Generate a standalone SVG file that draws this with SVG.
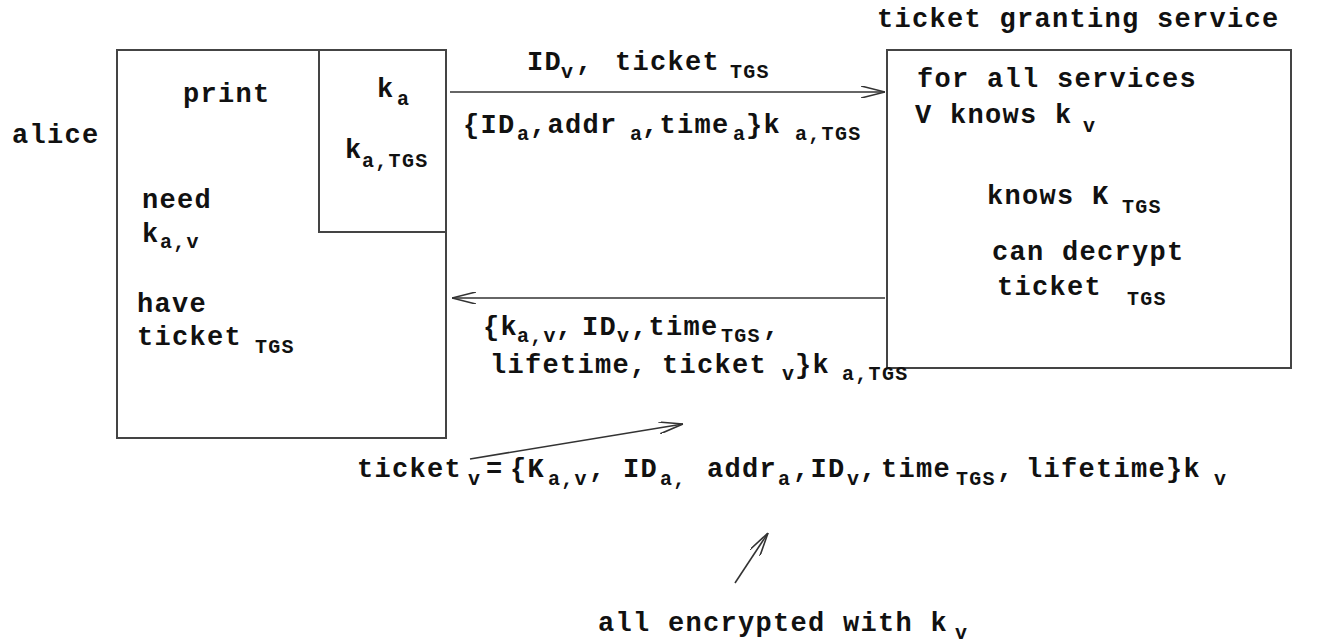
<svg xmlns="http://www.w3.org/2000/svg" width="1317" height="643" viewBox="0 0 1317 643">
<style>
.t{font-family:"Liberation Mono","DejaVu Sans Mono",monospace;font-weight:bold;font-size:27px;letter-spacing:1.3px;fill:#111}
.s{font-size:20px;letter-spacing:1.3px}
.box{fill:none;stroke:#444;stroke-width:2}
.c{fill:none;stroke:#333;stroke-width:1.6}
</style>
<defs>
<marker id="ah" viewBox="0 0 24 12" refX="24" refY="6" markerWidth="24" markerHeight="12" markerUnits="userSpaceOnUse" orient="auto">
<path d="M0,0 L24,6 L0,12" fill="none" stroke="#333" stroke-width="1.6"/>
</marker>
</defs>
<rect width="1317" height="643" fill="#fff"/>
<g id="alice">
<rect class="box" x="117" y="50" width="329" height="388"/>
<polyline class="box" points="319,50 319,232 446,232"/>
<text class="t" x="12" y="143">alice</text>
<text class="t" x="183" y="102">print</text>
<text class="t" x="377" y="97">k<tspan class="s" x="397" y="105">a</tspan></text>
<text class="t" x="345" y="158">k<tspan class="s" x="362" y="167">a,TGS</tspan></text>
<text class="t" x="142" y="208">need</text>
<text class="t" x="142" y="242">k<tspan class="s" x="160" y="248">a,v</tspan></text>
<text class="t" x="137" y="312">have</text>
<text class="t" x="137" y="345">ticket<tspan class="s" x="255" y="353">TGS</tspan></text>
</g>
<g id="tgs">
<rect class="box" x="887" y="50" width="404" height="318"/>
<text class="t" x="877" y="27">ticket granting service</text>
<text class="t" x="917" y="87">for all services</text>
<text class="t" x="915" y="123">V knows k<tspan class="s" x="1083" y="132">v</tspan></text>
<text class="t" x="987" y="204">knows K<tspan class="s" x="1122" y="213">TGS</tspan></text>
<text class="t" x="992" y="260">can decrypt</text>
<text class="t" x="997" y="295">ticket<tspan class="s" x="1127" y="305">TGS</tspan></text>
</g>
<g id="connectors">
<line class="c" x1="470" y1="459" x2="683" y2="424" marker-end="url(#ah)"/>
<line class="c" x1="450" y1="92" x2="885" y2="92" marker-end="url(#ah)"/>
<line class="c" x1="885" y1="298" x2="452" y2="298" marker-end="url(#ah)"/>
<line class="c" x1="735" y1="583" x2="768" y2="533" marker-end="url(#ah)"/>
</g>
<g id="labels">
<text class="t" x="527" y="70">ID<tspan class="s" x="561" y="78">v</tspan><tspan x="576" y="70">,</tspan><tspan x="615" y="70">ticket</tspan><tspan class="s" x="730" y="78">TGS</tspan></text>
<text class="t" x="463" y="133">{ID<tspan class="s" x="517" y="140">a</tspan><tspan x="530" y="133">,addr</tspan><tspan class="s" x="630" y="140">a</tspan><tspan x="642" y="133">,time</tspan><tspan class="s" x="733" y="140">a</tspan><tspan x="746" y="133">}k</tspan><tspan class="s" x="795" y="140">a,TGS</tspan></text>
<text class="t" x="483" y="335">{k<tspan class="s" x="517" y="342">a,v</tspan><tspan x="556" y="335">,</tspan><tspan x="582" y="335">ID</tspan><tspan class="s" x="617" y="342">v</tspan><tspan x="631" y="335">,time</tspan><tspan class="s" x="721" y="342">TGS</tspan><tspan x="763" y="335">,</tspan></text>
<text class="t" x="490" y="373">lifetime,</text>
<text class="t" x="662" y="373">ticket<tspan class="s" x="782" y="380">v</tspan><tspan x="795" y="373">}k</tspan><tspan class="s" x="842" y="380">a,TGS</tspan></text>
<text class="t" x="357" y="477">ticket<tspan class="s" x="468" y="485">v</tspan><tspan x="486" y="477">=</tspan><tspan x="510" y="477">{K</tspan><tspan class="s" x="548" y="485">a,v</tspan><tspan x="589" y="477">,</tspan><tspan x="623" y="477">ID</tspan><tspan class="s" x="660" y="485">a,</tspan><tspan x="707" y="477">addr</tspan><tspan class="s" x="778" y="485">a</tspan><tspan x="793" y="477">,ID</tspan><tspan class="s" x="847" y="485">v</tspan><tspan x="860" y="477">,</tspan><tspan x="881" y="477">time</tspan><tspan class="s" x="956" y="485">TGS</tspan><tspan x="997" y="477">,</tspan><tspan x="1026" y="477">lifetime}k</tspan><tspan class="s" x="1214" y="485">v</tspan></text>
<text class="t" x="598" y="631">all encrypted with k<tspan class="s" x="955" y="639">v</tspan></text>
</g>
</svg>
